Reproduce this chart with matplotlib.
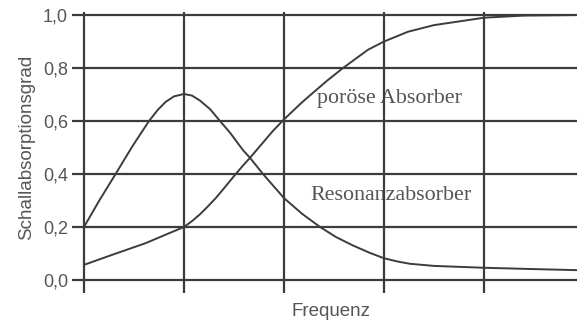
import matplotlib
matplotlib.use('Agg')
import matplotlib.pyplot as plt

# Werte (x in Gittereinheiten, Frequenz ohne Skala)
resonanz_x = [0, 0.15, 0.316, 0.483, 0.65, 0.74, 0.816, 0.9, 1.0, 1.08, 1.16,
              1.26, 1.36, 1.46, 1.59, 1.66, 1.79, 2.0, 2.18, 2.36, 2.52, 2.69,
              2.86, 3.0, 3.13, 3.26, 3.5, 4.0, 4.5, 4.93]
resonanz_y = [0.2, 0.298, 0.4, 0.504, 0.6, 0.643, 0.672, 0.693, 0.702, 0.696, 0.677,
              0.645, 0.6, 0.556, 0.49, 0.461, 0.4, 0.309, 0.25, 0.2, 0.162, 0.13,
              0.102, 0.082, 0.07, 0.061, 0.053, 0.046, 0.041, 0.037]

poroes_x = [0, 0.283, 0.617, 0.817, 1.0, 1.08, 1.16, 1.24, 1.32, 1.4, 1.5,
            1.59, 1.66, 1.89, 2.0, 2.17, 2.27, 2.43, 2.59, 2.72, 2.84, 3.0,
            3.24, 3.5, 3.77, 4.0, 4.4, 4.93]
poroes_y = [0.057, 0.095, 0.139, 0.171, 0.2, 0.222, 0.248, 0.278, 0.31, 0.346, 0.392,
            0.432, 0.461, 0.563, 0.606, 0.667, 0.70, 0.752, 0.8, 0.836, 0.869, 0.9,
            0.937, 0.962, 0.977, 0.99, 0.998, 1.0]

x_ticks = [0, 1, 2, 3, 4]
y_ticks = [0.0, 0.2, 0.4, 0.6, 0.8, 1.0]
y_labels = ['0,0', '0,2', '0,4', '0,6', '0,8', '1,0']

LINE = '#3c3c3c'
TEXT = '#555555'
SANS = ['Liberation Sans', 'DejaVu Sans']
SERIF = ['Liberation Serif', 'DejaVu Serif']

fig = plt.figure(figsize=(5.77, 3.26), dpi=100)
ax = fig.add_axes([82 / 577, (326 - 282.6) / 326, 1 - 82 / 577, (282.6 - 12.4) / 326])

ax.plot(resonanz_x, resonanz_y, color=LINE, lw=1.4, solid_joinstyle='round')
ax.plot(poroes_x, poroes_y, color=LINE, lw=1.4, solid_joinstyle='round')

ax.set_xlim(-0.02, 4.93)
ax.set_ylim(-0.01, 1.01)
ax.set_xticks(x_ticks)
ax.set_xticklabels([])
ax.set_yticks(y_ticks)
ax.set_yticklabels(y_labels, family=SANS, fontsize=13, color=TEXT)
ax.tick_params(axis='both', direction='out', length=7, width=1.6, color=LINE, pad=3)
ax.grid(True, color=LINE, lw=1.6)
ax.set_axisbelow(False)
for s in ax.spines.values():
    s.set_visible(False)

ax.text(2.33, 0.684, 'poröse Absorber', family=SERIF, fontsize=15.8,
        color=TEXT, ha='left', va='center', zorder=1)
ax.text(2.26, 0.32, 'Resonanzabsorber', family=SERIF, fontsize=15.8,
        color=TEXT, ha='left', va='center', zorder=1)

fig.text(0.5 * (84 + 577) / 577, 1 - 311 / 326, 'Frequenz', family=SANS,
         fontsize=13.5, color=TEXT, ha='center', va='center')
ax.set_ylabel('Schallabsorptionsgrad', family=SANS, fontsize=13.5, color=TEXT, labelpad=6)

fig.savefig('out.png', dpi=100)
